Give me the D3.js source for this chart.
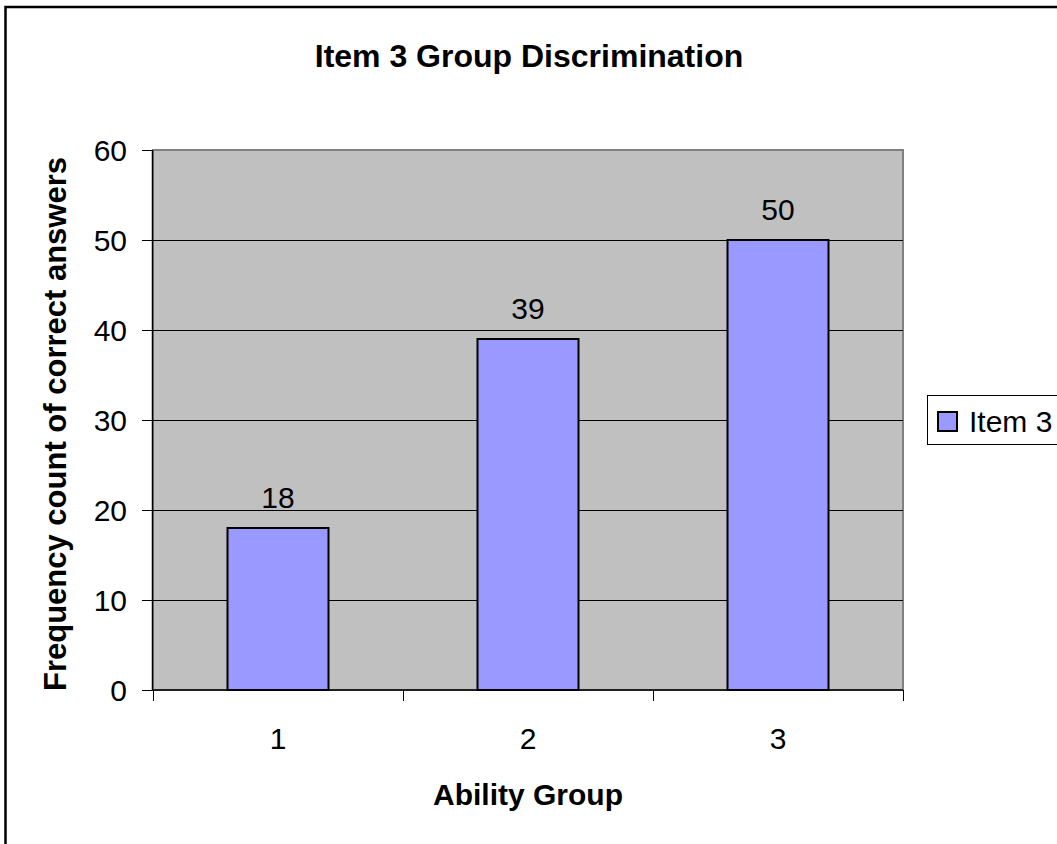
<!DOCTYPE html>
<html><head><meta charset="utf-8">
<script src="https://cdn.jsdelivr.net/npm/d3@7"></script>
<style>html,body{margin:0;padding:0;background:#fff;}svg{display:block;}</style>
</head><body>
<script>
const categories = ["1","2","3"];
const values = [18, 39, 50];
const seriesName = "Item 3";
const yTicks = [0,10,20,30,40,50,60];
const titleText = "Item 3 Group Discrimination";
const xTitle = "Ability Group";
const yTitle = "Frequency count of correct answers";

(function () {
const W = 1057, H = 844;
const FONT = "'Liberation Sans', Arial, sans-serif";
const svg = d3.select("body").append("svg").attr("width", W).attr("height", H);

svg.append("rect").attr("width", W).attr("height", H).attr("fill", "#fff");
// outer chart frame
svg.append("rect").attr("x", 5.5).attr("y", 7).attr("width", W + 20).attr("height", H + 20)
  .attr("fill", "none").attr("stroke", "#000").attr("stroke-width", 2.5);

const pLeft = 153, pRight = 903, pTop = 150, pBottom = 690;
const x = d3.scaleBand().domain(categories).range([pLeft, pRight]).paddingInner(0.596).paddingOuter(0.298);
const y = d3.scaleLinear().domain([0, 60]).range([pBottom, pTop]);

// plot area
svg.append("rect").attr("x", pLeft).attr("y", pTop).attr("width", pRight - pLeft).attr("height", pBottom - pTop)
  .attr("fill", "#C0C0C0").attr("stroke", "#808080").attr("stroke-width", 2);

// gridlines
svg.append("g").selectAll("line").data(yTicks.filter(d => d > 0 && d < 60)).join("line")
  .attr("x1", pLeft).attr("x2", pRight).attr("y1", d => Math.round(y(d)) + 0.5).attr("y2", d => Math.round(y(d)) + 0.5)
  .attr("stroke", "#000").attr("stroke-width", 1);

// bars
svg.append("g").selectAll("rect").data(values).join("rect")
  .attr("x", (d, i) => x(categories[i])).attr("width", x.bandwidth())
  .attr("y", d => y(d)).attr("height", d => y(0) - y(d))
  .attr("fill", "#9999FF").attr("stroke", "#000").attr("stroke-width", 2);

// y axis
const yAxis = d3.axisLeft(y).tickValues(yTicks).tickSize(11).tickPadding(15).tickFormat(d3.format("d"));
const gy = svg.append("g").attr("transform", `translate(${pLeft},0)`).call(yAxis);
gy.select(".domain").attr("stroke", "#000").attr("stroke-width", 1.5).attr("d", `M-0.5,${pTop}V${pBottom}`);
gy.selectAll(".tick line").attr("stroke", "#000");
gy.selectAll(".tick text").attr("font-family", FONT).attr("font-size", 30).attr("fill", "#000").attr("dy", "0.36em");

// x axis: category labels centered, ticks at band boundaries
const gx = svg.append("g").attr("transform", `translate(0,${pBottom})`);
gx.append("line").attr("x1", pLeft).attr("x2", pRight).attr("y1", 0).attr("y2", 0).attr("stroke", "#000").attr("stroke-width", 1.5);
const bounds = d3.range(categories.length + 1).map(i => pLeft + i * x.step());
gx.selectAll("line.t").data(bounds).join("line").attr("class", "t")
  .attr("x1", d => Math.round(d) + 0.5).attr("x2", d => Math.round(d) + 0.5).attr("y1", 0).attr("y2", 11)
  .attr("stroke", "#000");
gx.selectAll("text").data(categories).join("text")
  .attr("x", d => x(d) + x.bandwidth() / 2).attr("y", 59)
  .attr("text-anchor", "middle").attr("font-family", FONT).attr("font-size", 30).attr("fill", "#000").text(d => d);

// data labels
svg.append("g").selectAll("text").data(values).join("text")
  .attr("x", (d, i) => x(categories[i]) + x.bandwidth() / 2).attr("y", d => y(d) - 20)
  .attr("text-anchor", "middle").attr("font-family", FONT).attr("font-size", 30).attr("fill", "#000").text(d => d);

// title
svg.append("text").attr("x", 529).attr("y", 67).attr("text-anchor", "middle")
  .attr("font-family", FONT).attr("font-weight", "bold").attr("font-size", 32).text(titleText);
// x title
svg.append("text").attr("x", 528).attr("y", 805).attr("text-anchor", "middle")
  .attr("font-family", FONT).attr("font-weight", "bold").attr("font-size", 30).text(xTitle);
// y title
svg.append("text").attr("transform", "translate(66,424) rotate(-90)").attr("text-anchor", "middle")
  .attr("font-family", FONT).attr("font-weight", "bold").attr("font-size", 31).text(yTitle);

// legend
const lg = svg.append("g");
lg.append("rect").attr("x", 927.5).attr("y", 395.5).attr("width", 160).attr("height", 49)
  .attr("fill", "#fff").attr("stroke", "#000").attr("stroke-width", 1);
lg.append("rect").attr("x", 938).attr("y", 412).attr("width", 19).attr("height", 19)
  .attr("fill", "#9999FF").attr("stroke", "#000").attr("stroke-width", 2);
lg.append("text").attr("x", 969).attr("y", 432).attr("font-family", FONT).attr("font-size", 30).text(seriesName);
})();
</script>
</body></html>
